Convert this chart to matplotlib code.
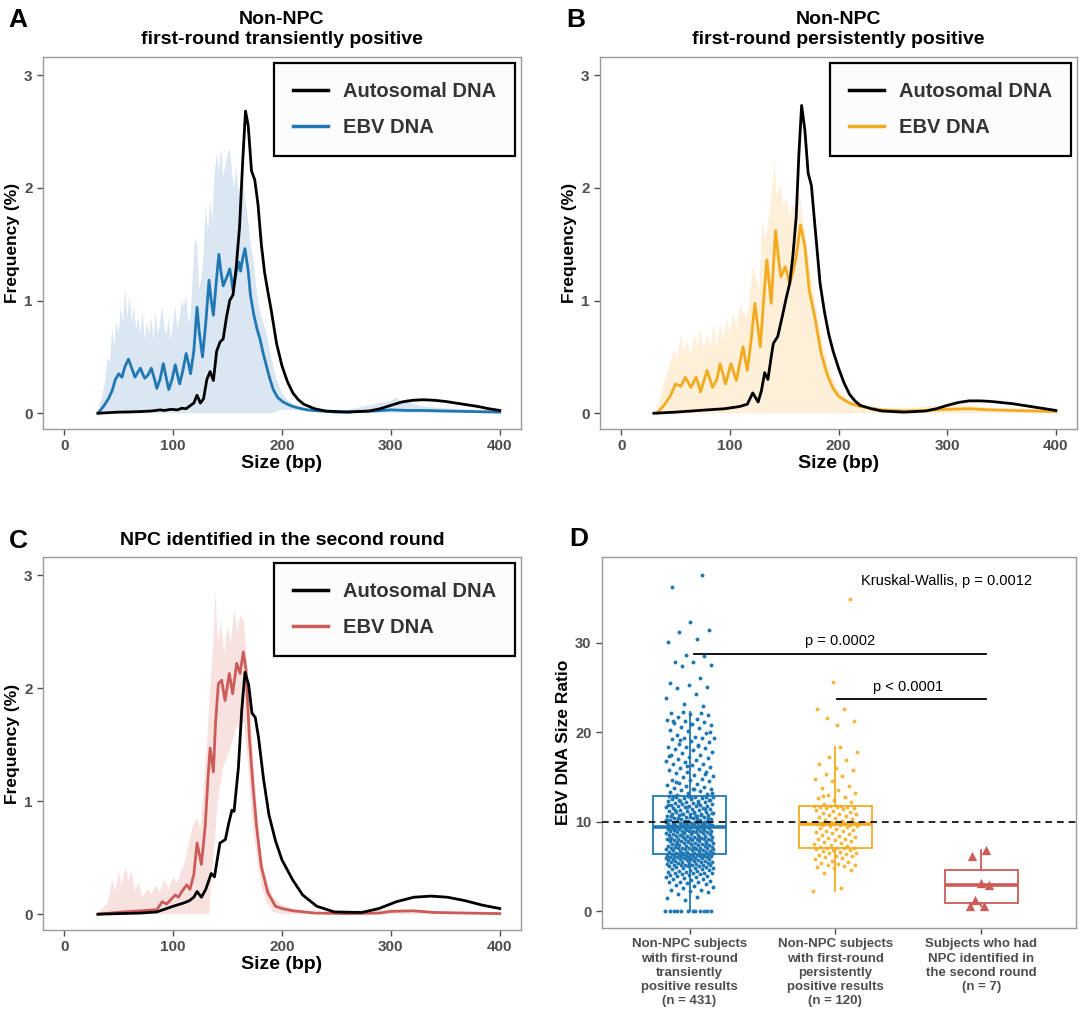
import numpy as np
import matplotlib.pyplot as plt
from matplotlib.lines import Line2D

plt.rcParams['font.family'] = ['Liberation Sans', 'DejaVu Sans']

# ---------------- panel A: non-NPC, first-round transiently positive ----------------
a_auto_bp = [31, 40, 50, 60, 70, 80, 88, 92, 98, 104, 108, 112, 116, 119, 122, 125, 128, 131, 134, 137,
             140, 143, 146, 149, 152, 155, 158, 161, 164, 166.5, 169, 172, 175, 178, 181, 184, 187, 190,
             195, 200, 205, 210, 215, 220, 230, 240, 260, 280, 290, 300, 310, 320, 330, 340, 350, 360,
             370, 380, 390, 400]
a_auto_f = [0.0, 0.005, 0.01, 0.012, 0.015, 0.02, 0.03, 0.025, 0.035, 0.03, 0.045, 0.04, 0.07, 0.09, 0.16,
            0.09, 0.13, 0.30, 0.37, 0.29, 0.55, 0.63, 0.66, 0.85, 1.0, 1.05, 1.3, 1.65, 2.25, 2.68, 2.55,
            2.15, 2.07, 1.85, 1.5, 1.25, 1.08, 0.92, 0.62, 0.42, 0.28, 0.18, 0.12, 0.08, 0.04, 0.02, 0.01,
            0.02, 0.04, 0.07, 0.10, 0.115, 0.12, 0.115, 0.105, 0.09, 0.075, 0.06, 0.04, 0.025]
a_ebv_bp = [31, 36, 40.7, 44, 47, 50, 53, 56, 59, 62, 65, 68, 70, 72, 74, 77, 80, 83, 85, 88, 91, 94, 96,
            99, 102, 104, 106, 109, 112, 114, 116, 119, 122, 124, 127, 130, 133, 135, 137, 139.5, 142,
            144, 146, 149, 152, 153.5, 155, 158, 160.5, 162, 164, 166, 169, 171, 174, 177, 180, 183, 186,
            189, 192, 196, 201, 205, 210, 216, 223, 235, 250, 270, 285, 300, 315, 330, 350, 375, 400]
a_ebv_f = [0.0, 0.06, 0.13, 0.2, 0.3, 0.35, 0.32, 0.42, 0.48, 0.4, 0.32, 0.37, 0.40, 0.35, 0.31, 0.34, 0.40,
           0.3, 0.22, 0.3, 0.44, 0.3, 0.21, 0.3, 0.43, 0.34, 0.26, 0.38, 0.53, 0.45, 0.35, 0.55, 0.94, 0.72,
           0.50, 0.8, 1.18, 1.0, 0.87, 1.15, 1.41, 1.25, 1.13, 1.2, 1.28, 1.2, 1.09, 1.25, 1.34, 1.26, 1.38,
           1.46, 1.26, 1.05, 0.88, 0.75, 0.65, 0.52, 0.41, 0.3, 0.21, 0.14, 0.10, 0.08, 0.06, 0.045, 0.03,
           0.02, 0.01, 0.015, 0.02, 0.03, 0.025, 0.025, 0.02, 0.015, 0.01]
a_hi_bp = [31, 34, 37, 40, 42, 44, 46, 48, 50, 52, 54, 56, 58, 60, 62, 64, 66, 68, 70, 72, 74, 76, 78, 80,
           82, 84, 86, 88, 90, 92, 94, 96, 98, 100, 102, 104, 106, 108, 110, 112, 114, 116, 118, 120, 122,
           124, 126, 128, 130, 132, 134, 136, 138, 140, 142, 144, 146, 148, 150, 152, 154, 156, 158, 160,
           162, 164, 166, 168, 170, 172, 174, 176, 178, 180, 183, 186, 190, 195, 200, 205, 210, 220, 240,
           260, 270, 280, 290, 300, 305, 310, 315, 320, 330, 340, 360, 380, 400]
a_hi_f = [0.02, 0.12, 0.25, 0.5, 0.45, 0.75, 0.6, 0.82, 0.7, 0.95, 0.8, 1.1, 0.85, 1.05, 0.8, 0.95, 0.75,
          0.85, 0.7, 0.9, 0.65, 0.8, 0.7, 0.85, 0.65, 0.9, 0.7, 0.8, 0.95, 0.75, 0.7, 0.85, 0.65, 0.8, 0.95,
          0.75, 0.85, 1.0, 0.95, 1.05, 0.8, 0.85, 1.2, 1.55, 1.5, 1.1, 1.2, 1.4, 1.85, 1.6, 1.9, 1.7, 2.1,
          2.3, 2.15, 2.35, 2.1, 2.2, 2.3, 2.35, 2.15, 2.0, 2.2, 1.95, 2.05, 2.1, 1.9, 1.8, 1.6, 1.45, 1.35,
          1.15, 1.0, 0.9, 0.8, 0.7, 0.5, 0.3, 0.18, 0.12, 0.08, 0.05, 0.03, 0.03, 0.05, 0.07, 0.09, 0.11,
          0.14, 0.1, 0.13, 0.08, 0.06, 0.05, 0.04, 0.03, 0.02]
a_lo_bp = [31, 190, 200, 210, 230, 400]
a_lo_f = [0.0, 0.0, 0.03, 0.03, 0.01, 0.0]

# ---------------- panel B: non-NPC, first-round persistently positive ----------------
b_auto_bp = [30, 50, 79, 95, 109, 116, 121, 126, 129, 132, 135, 138, 140, 144, 148, 152, 155, 158, 161,
             163.5, 166, 169, 172, 175, 178, 183, 187, 191, 195, 200, 205, 210, 215, 220, 230, 240, 260,
             280, 290, 300, 310, 320, 330, 340, 350, 360, 370, 380, 390, 400]
b_auto_f = [0.0, 0.01, 0.03, 0.04, 0.06, 0.08, 0.18, 0.10, 0.2, 0.36, 0.30, 0.5, 0.62, 0.68, 0.85, 1.03,
            1.15, 1.4, 1.74, 2.3, 2.73, 2.51, 2.13, 2.02, 1.69, 1.15, 0.9, 0.7, 0.55, 0.40, 0.27, 0.17,
            0.11, 0.07, 0.04, 0.02, 0.01, 0.02, 0.04, 0.07, 0.095, 0.11, 0.11, 0.105, 0.095, 0.085, 0.07,
            0.055, 0.04, 0.025]
b_ebv_bp = [33, 40, 45, 50, 55, 59, 64, 69, 73, 79, 84, 88, 91, 96, 101, 106, 112, 116, 119, 123, 128,
            131, 134, 138, 142, 145, 147, 151, 155, 158, 161, 165, 169, 173, 178, 184, 190, 195, 200, 210,
            220, 240, 260, 280, 300, 320, 340, 360, 380, 400]
b_ebv_f = [0.0, 0.08, 0.15, 0.26, 0.24, 0.32, 0.23, 0.32, 0.19, 0.38, 0.23, 0.3, 0.44, 0.26, 0.44, 0.29,
           0.59, 0.38, 0.6, 0.975, 0.59, 1.0, 1.36, 0.975, 1.62, 1.35, 1.21, 1.3, 1.15, 1.25, 1.39, 1.67,
           1.48, 1.09, 0.86, 0.53, 0.33, 0.22, 0.15, 0.09, 0.06, 0.03, 0.02, 0.025, 0.035, 0.04, 0.03,
           0.025, 0.02, 0.015]
b_hi_bp = [31, 35, 40, 44, 48, 52, 55, 58, 61, 64, 67, 70, 73, 76, 79, 82, 85, 88, 91, 94, 97, 100, 103,
           106, 109, 112, 115, 118, 121, 124, 127, 130, 133, 136, 139, 141, 143, 146, 149, 152, 155, 158,
           161, 164, 167, 170, 173, 176, 179, 182, 186, 190, 195, 200, 210, 220, 240, 270, 300, 320, 340,
           370, 400]
b_hi_f = [0.02, 0.1, 0.3, 0.4, 0.55, 0.5, 0.7, 0.55, 0.65, 0.5, 0.7, 0.6, 0.75, 0.55, 0.7, 0.6, 0.78, 0.6,
          0.8, 0.65, 0.85, 0.7, 0.9, 0.75, 0.95, 0.9, 0.85, 1.0, 1.3, 1.2, 1.1, 1.7, 1.55, 1.75, 2.0, 2.25,
          1.9, 2.05, 1.85, 1.9, 1.75, 1.85, 1.8, 1.95, 1.75, 1.55, 1.35, 1.15, 0.95, 0.8, 0.6, 0.45, 0.3,
          0.2, 0.12, 0.07, 0.04, 0.05, 0.08, 0.07, 0.05, 0.04, 0.03]
b_lo_bp = [31, 400]
b_lo_f = [0.0, 0.0]

# ---------------- panel C: NPC identified in the second round ----------------
c_auto_bp = [31, 50, 70, 85, 100, 110, 115, 119, 122, 126, 130, 135, 138, 143, 148, 151, 154, 156, 160,
             163, 166, 169.4, 172.4, 175.5, 178.5, 183, 188, 194, 200, 210, 219, 232, 248, 273, 289, 305,
             321, 337, 352, 368, 384, 400]
c_auto_f = [0.0, 0.005, 0.01, 0.02, 0.07, 0.1, 0.12, 0.15, 0.2, 0.15, 0.22, 0.36, 0.33, 0.63, 0.66, 0.8,
            0.92, 0.91, 1.30, 1.8, 2.14, 2.03, 1.78, 1.74, 1.56, 1.2, 0.88, 0.65, 0.48, 0.30, 0.17, 0.07,
            0.02, 0.015, 0.05, 0.11, 0.15, 0.16, 0.15, 0.12, 0.08, 0.05]
c_ebv_bp = [31, 54, 70, 85, 90, 94, 98, 102, 105, 108, 112.5, 115.5, 119, 122, 126, 129.5, 132, 134, 137,
            139, 141.6, 144.6, 147.7, 151.6, 154.7, 158.4, 161.5, 164.5, 167, 170, 173.5, 176.6, 181, 187,
            194, 200, 210, 230, 260, 290, 300, 320, 340, 370, 400]
c_ebv_f = [0.0, 0.02, 0.03, 0.04, 0.11, 0.09, 0.13, 0.17, 0.15, 0.2, 0.26, 0.22, 0.35, 0.63, 0.44, 0.78,
           1.2, 1.47, 1.26, 1.7, 2.04, 2.07, 1.89, 2.13, 1.95, 2.22, 2.13, 2.32, 2.16, 1.57, 1.12, 0.78,
           0.42, 0.19, 0.07, 0.05, 0.03, 0.01, 0.005, 0.01, 0.025, 0.03, 0.015, 0.01, 0.005]
c_hi_bp = [31, 40, 44, 47, 50, 53, 56, 59, 62, 65, 68, 72, 76, 80, 84, 88, 92, 96, 100, 104, 108, 112,
           116, 119, 122, 125, 128, 131, 134, 137, 139, 141, 144, 147, 150, 153, 156, 159, 162, 165, 168,
           171, 174, 177, 180, 184, 188, 192, 200, 210, 230, 300, 330, 400]
c_hi_f = [0.01, 0.1, 0.3, 0.2, 0.38, 0.25, 0.42, 0.3, 0.38, 0.2, 0.28, 0.15, 0.22, 0.18, 0.25, 0.2, 0.3,
          0.22, 0.33, 0.28, 0.4, 0.5, 0.7, 0.8, 0.85, 0.75, 1.1, 1.5, 2.0, 2.4, 2.87, 2.4, 2.6, 2.3, 2.55,
          2.4, 2.7, 2.5, 2.65, 2.6, 2.2, 1.8, 1.3, 0.95, 0.6, 0.38, 0.25, 0.15, 0.08, 0.05, 0.02, 0.04,
          0.03, 0.01]
c_lo_bp = [31, 133, 137, 141, 146, 152, 158, 165, 169, 173, 177, 181, 186, 192, 200, 400]
c_lo_f = [0.0, 0.0, 0.5, 1.0, 1.3, 1.45, 1.65, 1.7, 1.3, 0.8, 0.5, 0.25, 0.1, 0.02, 0.0, 0.0]

# ---------------- panel D: EBV DNA size ratio ----------------
d_groups = ['Non-NPC subjects\nwith first-round\ntransiently\npositive results\n(n = 431)',
            'Non-NPC subjects\nwith first-round\npersistently\npositive results\n(n = 120)',
            'Subjects who had\nNPC identified in\nthe second round\n(n = 7)']
d_transient = [
    0.0, 0.0, 0.0, 0.0, 0.0, 0.0, 0.0, 0.0, 0.0, 0.0, 0.0, 0.0,
    1.2, 1.5, 1.6, 1.9, 2.1, 2.2, 2.3, 2.4, 2.6, 2.7, 2.8, 2.9,
    3.0, 3.1, 3.2, 3.3, 3.3, 3.4, 3.5, 3.6, 3.6, 3.7, 3.8, 3.8, 3.9, 3.9,
    4.0, 4.0, 4.1, 4.1, 4.2, 4.2, 4.3, 4.3, 4.4, 4.4, 4.5, 4.5, 4.6, 4.6, 4.7, 4.7, 4.8, 4.8, 4.8, 4.9, 4.9,
    5.0, 5.0, 5.0, 5.1, 5.1, 5.1, 5.2, 5.2, 5.2, 5.3, 5.3, 5.4, 5.4, 5.4, 5.5, 5.5, 5.5, 5.5, 5.6, 5.6, 5.6,
    5.7, 5.7, 5.7, 5.8, 5.8, 5.8, 5.8, 5.9, 5.9, 5.9, 5.9,
    6.0, 6.0, 6.0, 6.0, 6.1, 6.1, 6.1, 6.1, 6.2, 6.2, 6.2, 6.2, 6.3, 6.3, 6.3, 6.3, 6.35,
    6.4, 6.4, 6.5, 6.5, 6.5, 6.6, 6.6, 6.6, 6.7, 6.7,
    6.7, 6.8, 6.8, 6.8, 6.9, 6.9, 6.9, 7.0, 7.0, 7.0,
    7.1, 7.1, 7.1, 7.2, 7.2, 7.2, 7.3, 7.3, 7.3, 7.4,
    7.4, 7.4, 7.5, 7.5, 7.5, 7.6, 7.6, 7.6, 7.7, 7.7,
    7.7, 7.8, 7.8, 7.8, 7.9, 7.9, 7.9, 8.0, 8.0, 8.0,
    8.1, 8.1, 8.1, 8.2, 8.2, 8.2, 8.3, 8.3, 8.3, 8.4,
    8.4, 8.4, 8.5, 8.5, 8.5, 8.6, 8.6, 8.6, 8.7, 8.7,
    8.7, 8.8, 8.8, 8.8, 8.9, 8.9, 8.9, 9.0, 9.0, 9.0,
    9.1, 9.1, 9.1, 9.2, 9.2, 9.2, 9.3, 9.3, 9.3, 9.35,
    6.45, 6.95, 7.05, 7.45, 7.65, 7.85, 8.05, 8.25, 8.45, 8.65, 8.85, 9.05, 9.15, 9.25, 9.35, 9.38, 9.4, 9.4,
    9.4, 9.5, 9.5, 9.5, 9.6, 9.6, 9.6, 9.7, 9.7, 9.7,
    9.8, 9.8, 9.8, 9.9, 9.9, 9.9, 10.0, 10.0, 10.0, 10.1,
    10.1, 10.1, 10.2, 10.2, 10.3, 10.3, 10.4, 10.4, 10.5, 10.5,
    10.6, 10.6, 10.7, 10.7, 10.8, 10.8, 10.9, 10.9, 11.0, 11.0,
    11.1, 11.1, 11.2, 11.2, 11.3, 11.3, 11.4, 11.4, 11.5, 11.5,
    11.6, 11.6, 11.7, 11.7, 11.8, 11.8, 11.9, 11.9, 12.0, 12.0,
    12.1, 12.1, 12.2, 12.2, 12.3, 12.3, 12.4, 12.4, 12.5, 12.5,
    12.6, 12.6, 12.7, 12.7, 12.8, 12.8, 12.9, 12.9,
    9.45, 9.55, 9.65, 9.75, 9.85, 9.95, 10.05, 10.15, 10.25, 10.35, 10.45, 10.55, 10.65, 10.75, 10.85,
    10.95, 11.05, 11.25, 11.45, 11.65, 11.85, 12.05, 12.25, 12.45, 12.65, 12.85, 9.5, 9.9, 10.2, 10.6,
    13.0, 13.1, 13.2, 13.3, 13.4, 13.5, 13.6, 13.7, 13.8, 13.9,
    14.0, 14.1, 14.2, 14.3, 14.5, 14.6, 14.7, 14.8, 15.0, 15.1,
    15.2, 15.4, 15.5, 15.6, 15.8, 15.9, 16.0, 16.1, 16.3, 16.4,
    16.5, 16.7, 16.8, 16.9, 17.0, 17.1, 17.2, 17.4, 17.5, 17.7,
    17.8, 18.0, 18.1, 18.2, 18.3, 18.4, 18.6, 18.7, 18.9, 19.0,
    19.2, 19.3, 19.3, 19.4, 19.5, 19.7, 19.9, 20.1, 20.3, 20.5,
    20.6, 20.8, 20.9, 21.0, 21.1, 21.2, 21.4, 21.5, 21.7, 21.9,
    22.0, 22.1, 22.2, 22.3,
    13.2, 13.6, 14.4, 15.3, 16.2, 17.3, 18.5, 19.1, 20.0, 20.9, 21.3,
    22.9, 23.2, 23.8, 24.3, 25.0, 25.1, 25.3, 25.5, 26.1, 27.4, 27.5, 27.8, 27.9, 28.5, 28.6, 30.1,
    30.4, 31.2, 31.4, 32.3, 36.2, 37.6]
d_persistent = [
    2.2, 2.6, 4.3, 4.6, 4.8, 4.9, 5.0, 5.1, 5.2, 5.3, 5.4, 5.5, 5.6, 5.8, 5.9, 6.0, 6.1, 6.2, 6.3, 6.4,
    6.5, 6.5, 6.6, 6.7, 6.8, 6.8, 6.9, 7.0, 7.0, 7.05,
    7.1, 7.2, 7.3, 7.4, 7.5, 7.6, 7.7, 7.8, 7.9, 8.0, 8.1, 8.2, 8.3, 8.4, 8.5, 8.6, 8.7, 8.8, 8.9, 9.0,
    9.1, 9.2, 9.3, 9.4, 9.5, 9.5, 9.6, 9.6, 9.65, 9.7,
    9.7, 9.75, 9.8, 9.8, 9.85, 9.9, 9.9, 10.0, 10.0, 10.1, 10.2, 10.3, 10.4, 10.5, 10.6, 10.7, 10.8,
    10.9, 11.0, 11.1, 11.2, 11.3, 11.4, 11.5, 11.5, 11.6, 11.6, 11.65, 11.7, 11.7,
    11.8, 12.0, 12.2, 12.4, 12.6, 12.8, 13.0, 13.2, 13.5, 13.8, 14.0, 14.5, 14.8, 15.1, 15.3, 15.8,
    16.0, 16.4, 16.9, 17.2, 17.8, 18.4, 12.9,
    34.9, 25.6, 22.6, 22.6, 21.6, 21.3, 20.8]
d_npc = [0.6, 0.6, 1.2, 2.9, 3.1, 6.1, 6.8]

blue, blue_band = '#1f78b4', '#dae6f2'
orange, orange_band = '#f2ab1f', '#feefd9'
red, red_band = '#cd5c59', '#f8e2e0'
grey_txt = '#4d4d4d'
frame = '#999999'


def style_axes(ax, size=11):
    for s in ax.spines.values():
        s.set_color(frame)
        s.set_linewidth(1.0)
    ax.tick_params(colors=grey_txt, length=4, width=1.0, labelsize=size)
    for lab in ax.get_xticklabels() + ax.get_yticklabels():
        lab.set_fontweight('bold')


def size_panel(ax, auto_bp, auto_f, ebv_bp, ebv_f, hi_bp, hi_f, lo_bp, lo_f, col, band_col, title):
    ax.fill(list(hi_bp) + list(lo_bp)[::-1], list(hi_f) + list(lo_f)[::-1], color=band_col, lw=0)
    ax.plot(ebv_bp, ebv_f, color=col, lw=2)
    ax.plot(auto_bp, auto_f, color='black', lw=2)
    ax.set_xlim(-19.5, 419.5)
    ax.set_ylim(-0.14, 3.16)
    ax.set_xticks([0, 100, 200, 300, 400])
    ax.set_yticks([0, 1, 2, 3])
    ax.set_xlabel('Size (bp)', fontsize=14, fontweight='bold', labelpad=1)
    ax.set_ylabel('Frequency (%)', fontsize=12.5, fontweight='bold', labelpad=3)
    ax.set_title(title, fontsize=14, fontweight='bold', pad=9, linespacing=1.3)
    handles = [Line2D([], [], color='black', lw=2.5), Line2D([], [], color=col, lw=2.5)]
    leg = ax.legend(handles, ['Autosomal DNA', 'EBV DNA'], loc='upper right',
                    prop={'weight': 'bold', 'size': 14.5}, labelcolor='#333333',
                    handlelength=1.7, handletextpad=0.75, borderpad=0.95, labelspacing=0.85,
                    borderaxespad=0.3, fancybox=False, framealpha=1)
    leg.get_frame().set_edgecolor('black')
    leg.get_frame().set_linewidth(1.6)
    leg.get_frame().set_facecolor('#fcfcfc')
    style_axes(ax)


def jitter(n, width):
    return ((np.arange(n) * 0.618034) % 1.0 - 0.5) * 2 * width


fig = plt.figure(figsize=(10.8, 10.1), dpi=100)
ax_a = fig.add_axes([0.0398, 0.5752, 0.4426, 0.3684])
ax_b = fig.add_axes([0.5556, 0.5752, 0.4417, 0.3684])
ax_c = fig.add_axes([0.0398, 0.0792, 0.4426, 0.3693])
ax_d = fig.add_axes([0.5574, 0.0812, 0.4389, 0.3673])

size_panel(ax_a, a_auto_bp, a_auto_f, a_ebv_bp, a_ebv_f, a_hi_bp, a_hi_f, a_lo_bp, a_lo_f,
           blue, blue_band, 'Non-NPC\nfirst-round transiently positive')
size_panel(ax_b, b_auto_bp, b_auto_f, b_ebv_bp, b_ebv_f, b_hi_bp, b_hi_f, b_lo_bp, b_lo_f,
           orange, orange_band, 'Non-NPC\nfirst-round persistently positive')
size_panel(ax_c, c_auto_bp, c_auto_f, c_ebv_bp, c_ebv_f, c_hi_bp, c_hi_f, c_lo_bp, c_lo_f,
           red, red_band, 'NPC identified in the second round')

# panel D
cols = [blue, orange, red]
data = [d_transient, d_persistent, d_npc]
bp = ax_d.boxplot(data, positions=[1, 2, 3], widths=0.5, showfliers=False, showcaps=False,
                  patch_artist=True, zorder=2)
for i, c in enumerate(cols):
    bp['boxes'][i].set(facecolor='none', edgecolor=c, linewidth=1.3)
    bp['medians'][i].set(color=c, linewidth=2.6)
    for w in bp['whiskers'][2 * i:2 * i + 2]:
        w.set(color=c, linewidth=1.3)

ax_d.scatter(1 + jitter(len(d_transient), 0.165), d_transient, s=8, color=blue, lw=0, zorder=3)
ax_d.scatter(2 + jitter(len(d_persistent), 0.15), d_persistent, s=8, color=orange, lw=0, alpha=0.85, zorder=3)
ax_d.scatter(3 + jitter(len(d_npc), 0.08), d_npc, s=45, marker='^', color=red, lw=0, zorder=3)

ax_d.axhline(10, color='black', lw=1.2, ls=(0, (4, 3)), zorder=4)
ax_d.plot([1.03, 3.03], [28.8, 28.8], color='black', lw=1.3)
ax_d.plot([2.01, 3.03], [23.7, 23.7], color='black', lw=1.3)
ax_d.text(2.03, 29.4, 'p = 0.0002', ha='center', va='bottom', fontsize=10.5)
ax_d.text(2.5, 24.3, 'p < 0.0001', ha='center', va='bottom', fontsize=10.5)
ax_d.text(2.76, 36.9, 'Kruskal-Wallis, p = 0.0012', ha='center', va='center', fontsize=10.5)

ax_d.set_xlim(0.4, 3.65)
ax_d.set_ylim(-1.9, 39.6)
ax_d.set_yticks([0, 10, 20, 30])
ax_d.set_xticks([1, 2, 3])
ax_d.set_xticklabels(d_groups, linespacing=1.25)
ax_d.set_ylabel('EBV DNA Size Ratio', fontsize=12.5, fontweight='bold', labelpad=3)
style_axes(ax_d, size=10.5)
ax_d.tick_params(axis='x', labelsize=9.5)

for letter, x, y in [('A', 0.008, 0.992), ('B', 0.524, 0.992), ('C', 0.008, 0.476), ('D', 0.527, 0.478)]:
    fig.text(x, y, letter, fontsize=19, fontweight='bold', va='top', ha='left')

fig.savefig('out.png', dpi=100)
